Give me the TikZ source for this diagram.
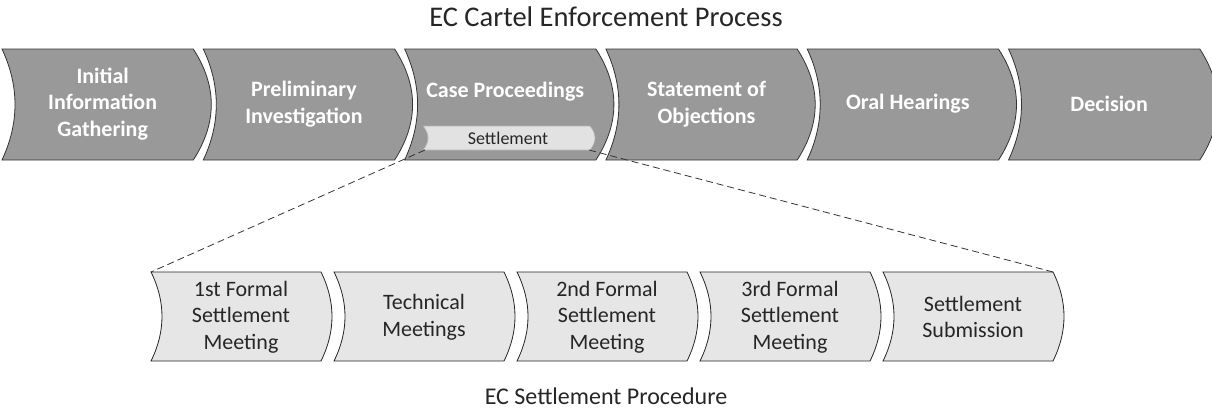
\documentclass[tikz,border=0pt]{standalone}
\usepackage{fontspec}
\setmainfont{Carlito}
\usetikzlibrary{positioning}

\definecolor{stagegray}{RGB}{153,153,153}
\definecolor{stepgray}{RGB}{230,230,230}
\definecolor{pillgray}{RGB}{226,226,226}
\definecolor{inkgray}{RGB}{38,38,38}

% outline of one stage: left, right, top, bottom, left bulge, right bulge
\newcommand{\chevpath}[6]{(#1,#3) -- (#2,#3)
  .. controls ({#2+1.333*#6},{#3+(#4-#3)/3}) and ({#2+1.333*#6},{#4-(#4-#3)/3}) .. (#2,#4) -- (#1,#4)
  .. controls ({#1+1.333*#5},{#4-(#4-#3)/3}) and ({#1+1.333*#5},{#3+(#4-#3)/3}) .. cycle}

\tikzset{
  stage/.style={fill=stagegray, draw=black!80, line width=0.8pt},
  stagetext/.style={align=center, text=white, font=\fontsize{22}{26.5}\selectfont\bfseries},
  substage/.style={fill=stepgray, draw=black!85, line width=0.8pt},
  subtext/.style={align=center, text=inkgray, font=\fontsize{22}{26.5}\selectfont},
  pill/.style={fill=pillgray, draw=black!30, line width=0.6pt},
  title/.style={text=inkgray},
}

\begin{document}
\begin{tikzpicture}[x=1pt, y=-1pt]
	\useasboundingbox (0,0) rectangle (1212,410);

	\node (process) [title, font=\fontsize{28.5}{32}\selectfont] at (606,17) {EC Cartel Enforcement Process};
	\node (procedure) [title, font=\fontsize{24}{28}\selectfont] at (606,396) {EC Settlement Procedure};

	% enforcement stages
	\foreach \i/\name/\ty/\txt in {0/initial/104/{Initial\\Information\\Gathering},
	                               1/prelim/104/{Preliminary\\Investigation},
	                               2/case/92/{Case Proceedings},
	                               3/objections/104/{Statement of\\Objections},
	                               4/hearings/104/{Oral Hearings},
	                               5/decision/104/{Decision}} {
		\pgfmathsetmacro\L{2+201.3*\i}
		\pgfmathsetmacro\R{\L+191.3}
		\draw [stage] \chevpath{\L}{\R}{49}{160}{13}{18};
		\node (\name) [stagetext] at ({(\L+\R)/2+5},\ty) {\txt};
	}

	% settlement inside case proceedings
	\draw [pill] \chevpath{423}{590}{126}{150}{5}{5};
	\node (settle) [subtext, font=\fontsize{18}{21}\selectfont] at (508,138) {Settlement};
	\coordinate (settle-l) at (425,150);
	\coordinate (settle-r) at (589,150);

	% settlement procedure steps
	\foreach \j/\name/\txt in {0/first/{1st Formal\\Settlement\\Meeting},
	                           1/technical/{Technical\\Meetings},
	                           2/second/{2nd Formal\\Settlement\\Meeting},
	                           3/third/{3rd Formal\\Settlement\\Meeting},
	                           4/submission/{Settlement\\Submission}} {
		\pgfmathsetmacro\L{151+183*\j}
		\pgfmathsetmacro\R{\L+170}
		\draw [substage] \chevpath{\L}{\R}{272}{361}{11}{11};
		\node (\name) [subtext] at ({(\L+\R)/2+5},317) {\txt};
	}
	\coordinate (first-tl) at (151,272);
	\coordinate (submission-tr) at (1053,272);

	\path [dashed, dash pattern=on 7pt off 4pt, black!80, line width=0.8pt]
		(settle-l) edge (first-tl)
		(settle-r) edge (submission-tr);

\end{tikzpicture}
\end{document}
